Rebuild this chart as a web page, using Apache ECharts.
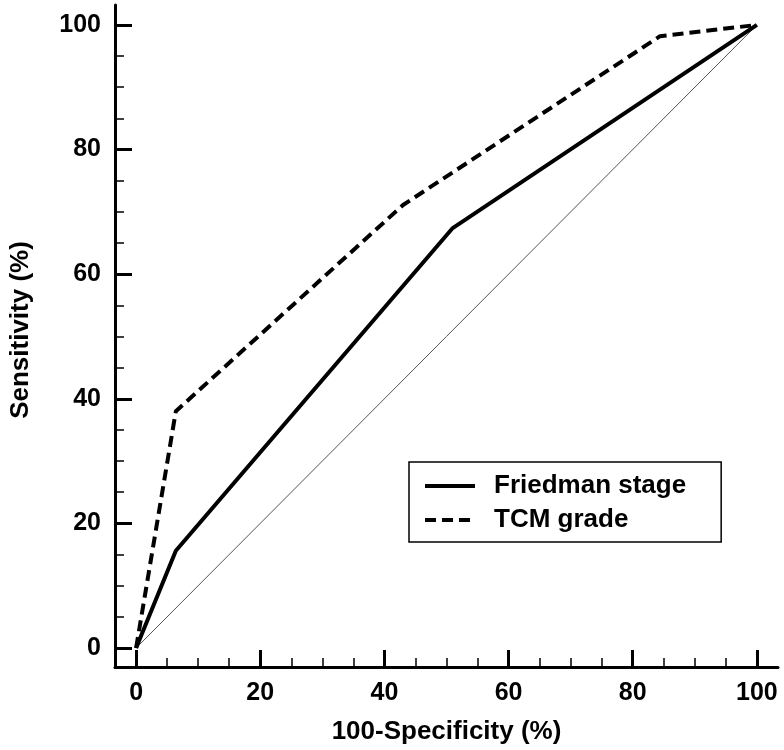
<!DOCTYPE html>
<html>
<head>
<meta charset="utf-8">
<script src="https://cdn.jsdelivr.net/npm/echarts@6/dist/echarts.min.js"></script>
<style>
    html, body { margin: 0; padding: 0; background: #fff; }
    #chart { width: 784px; height: 750px; }
</style>
</head>
<body>
<div id="chart"></div>
<script>
// ROC curves, x = 100-specificity, y = sensitivity (both %)
const friedmanX = [0, 6.4, 51, 100]
const friedmanY = [0, 15.6, 67.4, 100]
const tcmX = [0, 6.4, 43, 84.4, 100]
const tcmY = [0, 38, 71.1, 98.2, 100]
const refX = [0, 100]
const refY = [0, 100]
const majorTicks = [0, 20, 40, 60, 80, 100]
const minorTicks = [5, 10, 15, 25, 30, 35, 45, 50, 55, 65, 70, 75, 85, 90, 95]

const font = "'Liberation Sans', Arial, sans-serif"
const pairs = (xs, ys) => xs.map((x, i) => [x, ys[i]])

// axis runs a bit past 0..100 on both ends, like the original
const xRange = { min: -3.4, max: 103.4 }
const yRange = { min: -3.05, max: 103.2 }

function majorAxis(range, extra) {
    return Object.assign({
        type: 'value',
        min: range.min,
        max: range.max,
        splitLine: { show: false },
        axisLine: { show: true, onZero: false, lineStyle: { color: '#000', width: 3 } },
        axisTick: {
            show: true, inside: true, length: 17, customValues: majorTicks,
            lineStyle: { color: '#000', width: 3 }
        },
        axisLabel: {
            customValues: majorTicks, margin: 14,
            color: '#000', fontFamily: font, fontWeight: 'bold', fontSize: 25
        },
        nameLocation: 'middle'
    }, extra)
}

function minorAxis(range, pos) {
    return {
        type: 'value',
        position: pos,
        min: range.min,
        max: range.max,
        splitLine: { show: false },
        axisLine: { show: false, onZero: false },
        axisTick: {
            show: true, inside: true, length: 9, customValues: minorTicks,
            lineStyle: { color: '#000', width: 1.5 }
        },
        axisLabel: { show: false }
    }
}

const titleStyle = { color: '#000', fontFamily: font, fontWeight: 'bold', fontSize: 26 }

const myChart = echarts.init(document.getElementById('chart'))
const options = {
    animation: false,
    backgroundColor: '#fff',
    grid: { left: 113, right: 6, top: 5, bottom: 83 },
    xAxis: [
        majorAxis(xRange, {
            position: 'bottom', name: '100-Specificity (%)', nameGap: 52,
            nameTextStyle: titleStyle
        }),
        minorAxis(xRange, 'bottom')
    ],
    yAxis: [
        majorAxis(yRange, {
            position: 'left', name: 'Sensitivity (%)', nameGap: 81,
            nameTextStyle: Object.assign({ padding: [0, 0, 0, 12] }, titleStyle)
        }),
        minorAxis(yRange, 'left')
    ],
    legend: {
        data: ['Friedman stage', 'TCM grade'],
        orient: 'vertical',
        left: 409,
        top: 462,
        padding: [10, 35, 8, 14],
        itemGap: 6,
        itemWidth: 50,
        itemHeight: 14,
        borderColor: '#000',
        borderWidth: 1.5,
        itemStyle: { opacity: 0 },
        lineStyle: { width: 4 },
        textStyle: {
            color: '#000', fontFamily: font, fontWeight: 'bold', fontSize: 26,
            lineHeight: 28, padding: [0, 0, 0, 14]
        }
    },
    series: [
        {
            name: 'reference',
            type: 'line',
            data: pairs(refX, refY),
            symbol: 'none',
            lineStyle: { color: '#555', width: 1 },
            z: 1
        },
        {
            name: 'Friedman stage',
            type: 'line',
            data: pairs(friedmanX, friedmanY),
            symbol: 'none',
            color: '#000',
            lineStyle: { color: '#000', width: 4 }
        },
        {
            name: 'TCM grade',
            type: 'line',
            data: pairs(tcmX, tcmY),
            symbol: 'none',
            color: '#000',
            lineStyle: { color: '#000', width: 4, type: [11, 6] }
        }
    ]
}
myChart.setOption(options)
</script>
</body>
</html>
